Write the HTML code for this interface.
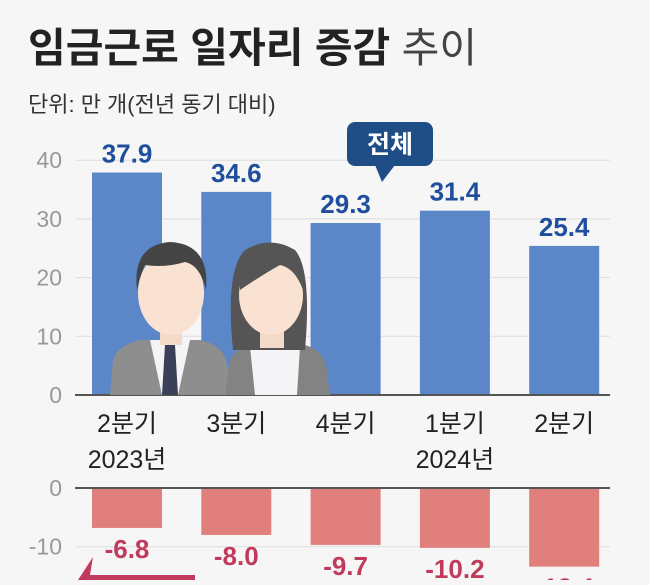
<!DOCTYPE html>
<html><head><meta charset="utf-8"><style>
body{margin:0;background:#f6f6f6;width:650px;height:580px;overflow:hidden;font-family:"Liberation Sans","Noto Sans CJK KR",sans-serif}
</style></head><body>
<svg width="650" height="580" xmlns="http://www.w3.org/2000/svg" font-family="Liberation Sans, Noto Sans CJK KR, sans-serif">
<text x="28" y="62" font-size="41" font-weight="700" fill="#222">임금근로 일자리 증감 <tspan font-weight="400" fill="#444">추이</tspan></text>
<text x="28" y="112" font-size="22" fill="#333">단위: 만 개(전년 동기 대비)</text>
<g id="g"></g>
</svg>
<script>
const categories=["2분기","3분기","4분기","1분기","2분기"];
const yearLabels=["2023년","","","2024년",""];
const totalValues=[37.9,34.6,29.3,31.4,25.4];
const changeValues=[-6.8,-8.0,-9.7,-10.2,-13.4];
const topTicks=[0,10,20,30,40];
const bottomTicks=[0,-10];
const NS="http://www.w3.org/2000/svg";
const g=document.getElementById('g');
function mk(t,a,txt){const e=document.createElementNS(NS,t);for(const k in a)e.setAttribute(k,a[k]);if(txt!==undefined)e.textContent=txt;g.appendChild(e);return e;}
const pxPerUnit=5.87;
const yTop=v=>395-v*pxPerUnit;
const yBot=v=>488-v*pxPerUnit;
const xBand=i=>92+i*109.3;
const bw=70;
topTicks.forEach(t=>{
  if(t!==0){const l=mk('line',{x1:75,x2:610,y1:yTop(t),y2:yTop(t),stroke:'#ddd','stroke-width':1});}
  const tx=mk('text',{x:62,y:yTop(t)+8,'font-size':23,fill:'#999','text-anchor':'end'},t);
  
});
bottomTicks.forEach(t=>{
  if(t!==0){const l=mk('line',{x1:75,x2:610,y1:yBot(t),y2:yBot(t),stroke:'#ddd','stroke-width':1});}
  const tx=mk('text',{x:62,y:yBot(t)+8,'font-size':23,fill:'#999','text-anchor':'end'},t);
  
});
totalValues.forEach((v,i)=>{
  const r=mk('rect',{x:xBand(i),y:yTop(v),width:bw,height:yTop(0)-yTop(v),fill:'#5b87c8'});
  
  const t=mk('text',{x:xBand(i)+bw/2,y:yTop(v)-10,'font-size':26,'font-weight':700,fill:'#1f4e9c','text-anchor':'middle'},v.toFixed(1));
  
  const c=mk('text',{x:xBand(i)+bw/2,y:432,'font-size':25,fill:'#222','text-anchor':'middle'},categories[i]);
  
  if(yearLabels[i]){const yl=mk('text',{x:xBand(i)+bw/2,y:468,'font-size':25,fill:'#222','text-anchor':'middle'},yearLabels[i]);}
});
changeValues.forEach((v,i)=>{
  const r=mk('rect',{x:xBand(i),y:yBot(0),width:bw,height:yBot(v)-yBot(0),fill:'#e07f7c'});
  
  const t=mk('text',{x:xBand(i)+bw/2,y:yBot(v)+30,'font-size':26,'font-weight':700,fill:'#c03a5c','text-anchor':'middle'},v.toFixed(1));
  
});
let l=mk('line',{x1:75,x2:610,y1:395,y2:395,stroke:'#555','stroke-width':2});
l=mk('line',{x1:75,x2:610,y1:488,y2:488,stroke:'#555','stroke-width':2});
const p=document.createElementNS(NS,'g');
p.innerHTML=`<path d="M110 395 L113 360 Q118 345 140 340 L200 340 Q222 345 226 360 L235 395Z" fill="#8e8e8e"/>
<path d="M150 340 L190 340 L178 395 L162 395Z" fill="#f4f4f6"/>
<path d="M165 345 L175 345 L178 395 L162 395Z" fill="#3b3f5a"/>
<rect x="160" y="315" width="22" height="30" fill="#f3d9c7"/>
<ellipse cx="171" cy="293" rx="33" ry="42" fill="#f9e2d2"/>
<path d="M137 290 Q132 245 170 242 Q210 244 206 290 Q200 265 185 262 Q165 268 145 265 Q140 275 137 290Z" fill="#444"/>
<path d="M225 395 L230 360 Q235 348 255 345 L305 345 Q322 350 326 365 L330 395Z" fill="#838383"/>
<path d="M250 347 L300 347 L297 395 L255 395Z" fill="#f4f4f6"/>
<path d="M233 350 Q225 270 245 250 Q270 235 295 250 Q312 270 305 350Z" fill="#555"/>
<rect x="260" y="318" width="24" height="30" fill="#f3d9c7"/>
<ellipse cx="271" cy="295" rx="32" ry="40" fill="#f9e2d2"/>
<path d="M240 290 Q238 255 270 250 Q300 252 303 290 Q295 268 280 265 Q262 275 240 290Z" fill="#555"/>`;
document.querySelector('svg').appendChild(p);
const cg=document.createElementNS(NS,'g');
cg.innerHTML=`<rect x="347" y="122" width="86" height="44" rx="8" fill="#1f4e86"/><path d="M375 165 L382 182 L395 165Z" fill="#1f4e86"/><text x="390" y="153" font-size="25" font-weight="700" fill="#fff" text-anchor="middle">전체</text>`;
document.querySelector('svg').appendChild(cg);
const ar=document.createElementNS(NS,'path');ar.setAttribute('d','M93 557 L78 580 L195 580 L195 575 L90 575Z');ar.setAttribute('fill','#c03a5c');


document.querySelector('svg').appendChild(ar);
</script>
</body></html>
